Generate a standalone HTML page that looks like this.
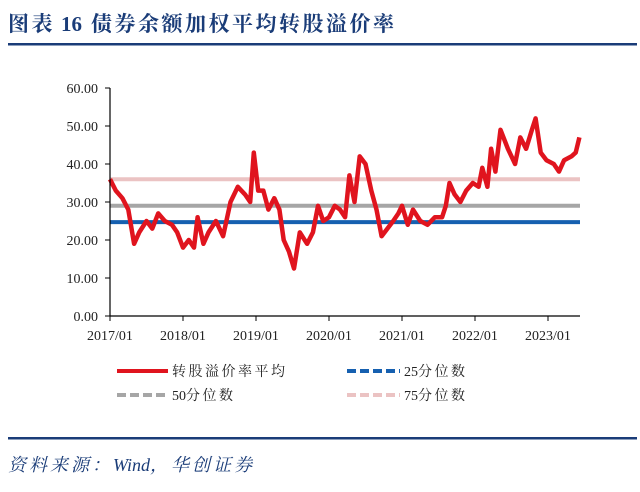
<!DOCTYPE html>
<html><head><meta charset="utf-8"><style>
body{margin:0;background:#fff;width:640px;height:487px;overflow:hidden;font-family:"Liberation Serif","Noto Serif CJK SC",serif;}
.cj{letter-spacing:2.5px}
</style></head><body>
<svg width="640" height="487" viewBox="0 0 640 487" xmlns="http://www.w3.org/2000/svg">
<text x="8" y="31" font-size="21" font-weight="bold" fill="#1a3c78" font-family="Liberation Serif,Noto Serif CJK SC,serif"><tspan class="cj">图表</tspan><tspan dx="6">16</tspan><tspan dx="9" class="cj">债券余额加权平均转股溢价率</tspan></text>
<rect x="8" y="43" width="629" height="2.5" fill="#1a3c78"/>
<g id="plot"></g>
<g font-size="14" fill="#222">
<line x1="117" y1="371" x2="168" y2="371" stroke="#e0141e" stroke-width="4"/>
<text x="172" y="376" class="cj">转股溢价率平均</text>
<line x1="347" y1="371" x2="400" y2="371" stroke="#1660b0" stroke-width="4" stroke-dasharray="9,4"/>
<text x="404" y="376"><tspan>25</tspan><tspan class="cj">分位数</tspan></text>
<line x1="117" y1="395" x2="168" y2="395" stroke="#a6a6a6" stroke-width="4" stroke-dasharray="9,4"/>
<text x="172" y="400"><tspan>50</tspan><tspan class="cj">分位数</tspan></text>
<line x1="347" y1="395" x2="400" y2="395" stroke="#ebc3c3" stroke-width="4" stroke-dasharray="9,4"/>
<text x="404" y="400"><tspan>75</tspan><tspan class="cj">分位数</tspan></text>
</g>
<rect x="8" y="437" width="629" height="2.5" fill="#1a3c78"/>
<text x="8" y="471" font-size="18" font-style="italic" fill="#1a3c78"><tspan style="letter-spacing:3px">资料来源：</tspan><tspan>Wind</tspan><tspan style="letter-spacing:3px">，华创证券</tspan></text>
</svg>
<script>
const xTickLabels=["2017/01","2018/01","2019/01","2020/01","2021/01","2022/01","2023/01"];
const yTicks=[0,10,20,30,40,50,60];
const dates=[2017.0,2017.08,2017.17,2017.25,2017.33,2017.4,2017.5,2017.58,2017.66,2017.75,2017.85,2017.92,2018.0,2018.08,2018.15,2018.2,2018.28,2018.35,2018.45,2018.55,2018.65,2018.75,2018.85,2018.92,2018.97,2019.03,2019.1,2019.17,2019.25,2019.32,2019.38,2019.45,2019.52,2019.6,2019.7,2019.78,2019.85,2019.92,2020.0,2020.08,2020.15,2020.22,2020.28,2020.35,2020.42,2020.5,2020.58,2020.65,2020.72,2020.8,2020.88,2020.95,2021.0,2021.08,2021.15,2021.25,2021.35,2021.45,2021.55,2021.6,2021.65,2021.72,2021.8,2021.88,2021.97,2022.05,2022.1,2022.17,2022.22,2022.28,2022.35,2022.45,2022.55,2022.62,2022.7,2022.78,2022.83,2022.9,2022.98,2023.08,2023.15,2023.22,2023.32,2023.38,2023.43];
const avgValues=[36,33,31,28,19,22,25,23,27,25,24,22,18,20,18,26,19,22,25,21,30,34,32,30,43,33,33,28,31,28,20,17,12.5,22,19,22,29,25,26,29,28,26,37,30,42,40,33,28,21,23,25,27,29,24,28,25,24,26,26,29,35,32,30,33,35,34,39,34,44,38,49,44,40,47,44,49,52,43,41,40,38,41,42,43,47];
const p25=24.7, p50=29.0, p75=36.0;
const ns="http://www.w3.org/2000/svg";
const X0=110,XW=73,Y0=316,YS=3.8,XEND=580;
const xs=d=>X0+(d-2017)*XW, ys=v=>Y0-v*YS;
const g=document.getElementById('plot');
function mk(t,a){const e=document.createElementNS(ns,t);for(const k in a)e.setAttribute(k,a[k]);g.appendChild(e);return e;}
yTicks.forEach((v,i)=>{
 const t=mk('line',{x1:105,x2:110,y1:ys(v),y2:ys(v),stroke:'#000','stroke-width':1});
 
 
 const l=mk('text',{x:98,y:ys(v)+5,'text-anchor':'end','font-size':14,fill:'#222'});
 l.textContent=v.toFixed(2);
 
 
});
xTickLabels.forEach((s,i)=>{
 const x=xs(2017+i);
 const t=mk('line',{x1:x,x2:x,y1:316,y2:321,stroke:'#000','stroke-width':1});
 
 
 const l=mk('text',{x:x,y:340,'text-anchor':'middle','font-size':14,fill:'#222'});
 l.textContent=s;
 
 
});
[[p75,'#ebc3c3','p75-line'],[p50,'#a6a6a6','p50-line'],[p25,'#1660b0','p25-line']].forEach(([v,c,n])=>{
 const e=mk('line',{x1:110,x2:XEND,y1:ys(v),y2:ys(v),stroke:c,'stroke-width':4});
 
 
});
const path=mk('polyline',{points:dates.map((d,i)=>xs(d).toFixed(1)+','+ys(avgValues[i]).toFixed(1)).join(' '),fill:'none',stroke:'#e0141e','stroke-width':4.5,'stroke-linejoin':'round'});


const ya=mk('line',{x1:110,x2:110,y1:88,y2:316,stroke:'#000','stroke-width':1.2});


const xa=mk('line',{x1:110,x2:XEND,y1:316,y2:316,stroke:'#000','stroke-width':1.2});


</script>
</body></html>
